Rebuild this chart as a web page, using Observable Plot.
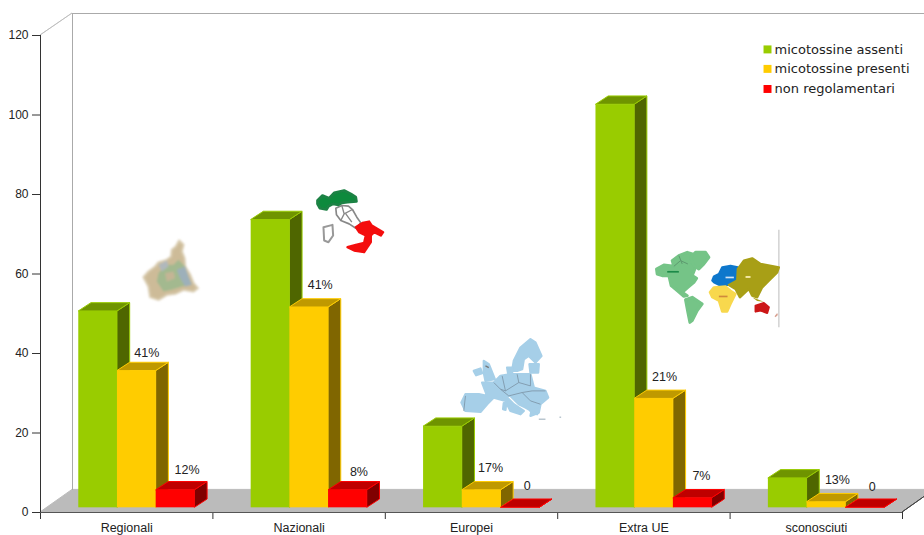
<!DOCTYPE html>
<html>
<head>
<meta charset="utf-8">
<script src="https://cdn.jsdelivr.net/npm/d3@7"></script>
<script src="https://cdn.jsdelivr.net/npm/@observablehq/plot@0.6"></script>
<style>
  html, body { margin: 0; padding: 0; background: #fff; overflow: hidden; }
  svg { display: block; }
</style>
</head>
<body>
<div id="chart"></div>
<script>
// Campioni per provenienza e stato delle micotossine
const categories = ["Regionali", "Nazionali", "Europei", "Extra UE", "sconosciuti"];
const assenti  = [50, 73, 21, 102, 8];
const presenti = [35, 51, 5, 28, 2];
const nonRegolamentari = [5, 5, 0, 3, 0];
const labelsPresenti = ["41%", "41%", "17%", "21%", "13%"];
const labelsNonReg   = ["12%", "8%", "0", "7%", "0"];
const yTicks = [0, 20, 40, 60, 80, 100, 120];
const seriesNames = ["micotossine assenti", "micotossine presenti", "non regolamentari"];
const frontColors = ["#99CC00", "#FFCC00", "#FF0000"];
const topColors   = ["#6F9400", "#BF9900", "#BF0000"];
const sideColors  = ["#4F6600", "#806600", "#800000"];
const legendRows  = [116.5, 111.6, 106.55];

// Ogni gruppo occupa una parte di categoria; la base poggia leggermente dentro il pavimento
const groupStart = 0.222, barWidth = 0.2245, barBase = 0.6, lift = 2.3;
const depthX = 12.7, depthY = 8.3;
const floorDepthX = 32, wallDepthY = 22, floorDepthY = 22.6;
const valueSets = [assenti, presenti, nonRegolamentari];

// Scostamento in pixel di ciascuna etichetta rispetto alla sommità della sua barra
const labelNudge = {
  1: {dx: [10, 11, 9, 10.5, 11], dy: [-19.9, -25, -25.1, -24, -25]},
  2: {dx: [11.5, 11, 7, 8.7, 7], dy: [-22.8, -21, -27, -24.4, -25.3]}
};

const rows = s => categories.map((c, i) => ({
  category: c,
  x1: i + groupStart + s * barWidth,
  x2: i + groupStart + (s + 1) * barWidth,
  y1: barBase,
  y2: Math.max(valueSets[s][i], barBase)
}));

// Facce in prospettiva calcolate dai valori già passati per le scale
const topFace = (x1, x2, y, dx, dy) =>
  `M${x1},${y}L${x1 + dx},${y - dy}L${x2 + dx},${y - dy}L${x2},${y}Z`;
const sideFace = (x, y1, y2, dx, dy) =>
  `M${x},${y2}L${x + dx},${y2 - dy}L${x + dx},${y1 - dy}L${x},${y1}Z`;

function faces(pathOf, fill, stroke, strokeWidth = 1) {
  return (index, scales, v, dims, ctx) => {
    const g = d3.select(ctx.document.createElementNS(d3.namespaces.svg, "g"));
    g.selectAll("path").data(Array.from(index)).join("path")
      .attr("d", i => pathOf(v.x1[i], v.x2[i], v.y1[i], v.y2[i]))
      .attr("fill", fill)
      .attr("stroke", stroke)
      .attr("stroke-width", strokeWidth)
      .attr("stroke-linejoin", "round");
    return g.node();
  };
}

function barMarks(s) {
  const data = rows(s);
  const pos = {x1: "x1", x2: "x2", y1: "y1", y2: "y2"};
  return [
    Plot.rect(data, {...pos, render: faces(
      (x1, x2, y1, y2) => sideFace(x2, y1 - lift, y2 - lift, depthX, depthY),
      sideColors[s], frontColors[s])}),
    Plot.rect(data, {...pos, render: faces(
      (x1, x2, y1, y2) => topFace(x1, x2, y2 - lift, depthX, depthY),
      topColors[s], frontColors[s])}),
    Plot.rect(data, {...pos, fill: frontColors[s], dy: -lift})
  ];
}

function labelMarks(s, labels) {
  return labels.map((label, i) => Plot.text(
    [{x: i + groupStart + (s + 0.5) * barWidth, y: valueSets[s][i], label}],
    {x: "x", y: "y", text: "label", dx: labelNudge[s].dx[i], dy: labelNudge[s].dy[i], fill: "#222", fontSize: 12.5}
  ));
}

// Sagome decorative delle aree geografiche, leggermente sfumate
const svgUri = (vb, blur, body) => "data:image/svg+xml," + encodeURIComponent(
  `<svg xmlns="http://www.w3.org/2000/svg" viewBox="${vb}">
     <defs><filter id="s" x="-5%" y="-5%" width="110%" height="110%"><feGaussianBlur stdDeviation="${blur}"/></filter></defs>
     <g filter="url(#s)" stroke-linejoin="round">${body}</g></svg>`);

const piemonte = svgUri("0 0 192 210", 3, `
  <path fill="#cdbb98" stroke="#d9ccb0" stroke-width="6" d="M122,12L135,25L130,45L138,65L140,90L155,115L165,140L178,155L165,165L135,160L110,172L85,175L60,190L35,182L30,150L15,122L30,105L50,90L60,78L85,70L98,60L100,40L112,30Z"/>
  <path fill="#a3b98f" d="M120,70L140,90L150,120L160,145L130,150L100,160L75,165L55,135L60,110L80,85L105,85Z"/>
  <path fill="#9db0ba" d="M115,100L140,90L150,120L160,145L140,150L125,125Z"/>
  <path fill="#b0b8bc" d="M60,85L85,72L90,90L70,105Z"/>
  <path fill="#c4b595" d="M80,110L105,105L110,125L85,135Z"/>`);

const italia = svgUri("0 0 228 216", 1.5, `
  <path fill="#fff" stroke="#888" stroke-width="5" d="M70,68L88,60L108,62L120,72L133,95L145,112L130,128L110,115L85,105L72,88Z"/>
  <path fill="none" stroke="#888" stroke-width="4" d="M88,60L95,85L85,105M95,85L120,72M100,85L118,110"/>
  <path fill="#0c8a3c" stroke="#1f8245" stroke-width="8" d="M15,45L30,30L50,38L65,22L95,15L115,25L130,35L132,48L105,50L88,52L78,58L62,55L48,62L42,72L22,68L15,55Z"/>
  <path fill="#f41010" stroke="#f41010" stroke-width="7" d="M130,125L150,112L170,108L178,120L212,140L205,150L185,140L175,150L175,170L155,200L125,195L105,185L130,178L155,172L160,150L140,140Z"/>
  <path fill="#fff" stroke="#999" stroke-width="6" d="M33,125L60,118L62,150L48,170L35,165Z"/>`);

const europa = svgUri("0 0 330 276", 1.5, `
  <g fill="#a6cfe8" stroke="#a6cfe8" stroke-width="7">
    <path d="M18,210L30,185L70,185L95,190L80,150L115,150L135,130L165,125L195,125L225,125L235,165L270,175L278,195L255,215L250,240L225,250L228,235L210,225L190,215L165,190L150,190L175,215L205,235L195,245L165,235L150,205L115,195L95,215L75,238L30,235Z"/>
    <path d="M170,115L175,85L195,45L225,20L240,30L258,70L240,90L220,70L205,80L200,110L185,115Z"/>
    <path d="M222,95L250,95L248,120L225,120Z"/>
    <path d="M85,85L100,95L118,140L90,145L85,120Z"/>
    <path d="M55,115L75,108L80,122L62,128Z"/>
    <path d="M155,105L170,105L170,125L158,122Z"/>
    <path d="M145,212L152,212L150,232L143,230Z"/>
    <path d="M225,235L250,230L245,245Z"/>
  </g>
  <path fill="none" stroke="#7c94a6" stroke-width="2.5" d="M115,150L135,170L150,175L140,130M150,175L190,150L225,160M190,150L185,125M135,170L160,190L200,180L230,175M200,180L225,205L255,215M230,175L270,175M30,190L25,235M225,125L225,160"/>
  <path stroke="#777" stroke-width="4" d="M90,100L100,105"/>
  <path fill="#b9c6cf" d="M250,258h20v4h-20zM312,252h5v4h-5z"/>`);

const mondo = svgUri("0 0 405 315", 1.5, `
  <path stroke="#ccc" stroke-width="4" d="M385,12V305"/>
  <g fill="#74c487" stroke="#74c487" stroke-width="9">
    <path d="M18,130L40,118L70,122L65,105L85,90L110,80L125,85L120,105L135,125L125,150L138,158L130,170L112,185L95,200L110,210L100,212L80,195L62,180L55,150L35,150L20,145Z"/>
    <path d="M120,95L135,80L165,80L175,95L160,115L145,130L130,120Z"/>
    <path d="M105,222L125,215L155,235L140,255L125,285L118,290L112,260Z"/>
  </g>
  <path fill="none" stroke="#5e9a6f" stroke-width="3" d="M70,122L90,105L112,115M85,90L95,115"/>
  <path fill="#1d8a48" d="M50,136h35v5h-35z"/>
  <path fill="#1177cc" stroke="#1177cc" stroke-width="6" d="M185,165L190,152L205,145L215,125L240,120L262,125L265,135L260,165L235,178L205,178L190,170Z"/>
  <path fill="#cfe3f5" d="M225,153h25v5h-25z"/>
  <path fill="#f8d84e" stroke="#f8d84e" stroke-width="7" d="M178,200L190,185L225,182L240,195L255,205L240,235L230,258L215,258L205,225L185,215Z"/>
  <path fill="#d08a3a" d="M205,210h26v5h-26z"/>
  <path fill="#a89f14" stroke="#a89f14" stroke-width="7" d="M262,130L280,105L305,98L330,115L385,125L380,140L355,165L335,185L320,215L305,210L295,190L268,215L255,190L235,178L260,165Z"/>
  <path fill="#f2e6a0" d="M285,151h15v6h-15z"/>
  <path fill="#a89f14" d="M305,215L340,228L320,226Z"/>
  <path fill="#cc1818" stroke="#cc1818" stroke-width="6" d="M315,240L340,232L355,245L350,262L330,255L315,258Z"/>
  <path fill="#d8a090" d="M372,272L380,262L382,268L375,275Z"/>`);

const mapImages = [
  {src: piemonte, x: 0.754, y: 60.63, w: 64, h: 70},
  {src: italia,   x: 1.798, y: 73.2,  w: 76, h: 72},
  {src: europa,   x: 2.726, y: 33.7,  w: 110, h: 92},
  {src: mondo,    x: 3.93,  y: 58.96, w: 135, h: 105}
];

const chart = Plot.plot({
  width: 924,
  height: 535,
  marginLeft: 40,
  marginRight: 22,
  marginTop: 35,
  marginBottom: 23,
  style: {background: "#fff", fontFamily: "'Liberation Sans', Arial, sans-serif", fontSize: "12px", color: "#222"},
  x: {domain: [0, categories.length], label: null},
  y: {domain: [0, 120], label: null},
  marks: [
    // Pavimento e pareti di fondo
    Plot.rect([{}], {x1: () => 0, x2: () => 5, y1: () => 0, y2: () => 0, render: faces(
      (x1, x2, y1, y2) => topFace(x1, x2, y2, floorDepthX, floorDepthY), "#BBBBBB", "#BBBBBB")}),
    Plot.ruleX([0], {y1: 0, y2: 120, dx: floorDepthX, dy: -wallDepthY, stroke: "#aaa", strokeWidth: 1}),
    Plot.ruleY([120], {x1: 0, x2: 5.2, dx: floorDepthX, dy: -wallDepthY, stroke: "#aaa", strokeWidth: 1}),
    Plot.rect([{}], {x1: () => 0, x2: () => 0, y1: () => 120, y2: () => 120, render: faces(
      (x1, x2, y1, y2) => topFace(x1, x2, y2, floorDepthX, wallDepthY), "none", "#bbb", 0.8)}),
    Plot.rect([{}], {x1: () => 5, x2: () => 5, y1: () => 0, y2: () => 0, render: faces(
      (x1, x2, y1, y2) => topFace(x1, x2, y2, floorDepthX, floorDepthY), "none", "#444", 1)}),
    // Assi
    Plot.axisY({ticks: yTicks, tickSize: 8, tickPadding: 4, label: null, stroke: "#333"}),
    Plot.axisX({ticks: d3.range(categories.length + 1), tickSize: 7, tickFormat: () => "", label: null, stroke: "#333"}),
    Plot.axisX({
      ticks: categories.map((c, i) => i + 0.5), tickSize: 0, tickPadding: 11, fontSize: 12.5,
      tickFormat: t => categories[t - 0.5], label: null
    }),
    Plot.ruleX([0], {y1: 0, y2: 120, stroke: "#333"}),
    Plot.ruleY([0], {x1: 0, x2: 5, stroke: "#555"}),
    // Immagini delle aree geografiche
    Plot.image(mapImages, {x: "x", y: "y", src: "src", width: "w", height: "h"}),
    // Barre tridimensionali
    ...barMarks(0),
    ...barMarks(1),
    ...barMarks(2),
    // Percentuali sopra le barre
    ...labelMarks(1, labelsPresenti),
    ...labelMarks(2, labelsNonReg),
    // Legenda
    Plot.dot(seriesNames, {
      x: () => 4.217, y: (d, i) => legendRows[i], symbol: "square", r: 4.5,
      fill: (d, i) => frontColors[i]
    }),
    Plot.text(seriesNames, {
      x: () => 4.258, y: (d, i) => legendRows[i], text: d => d, textAnchor: "start",
      fontFamily: "'DejaVu Sans', Verdana, sans-serif", fontSize: 13, fill: "#222"
    })
  ]
});
document.getElementById("chart").append(chart);
</script>
</body>
</html>
